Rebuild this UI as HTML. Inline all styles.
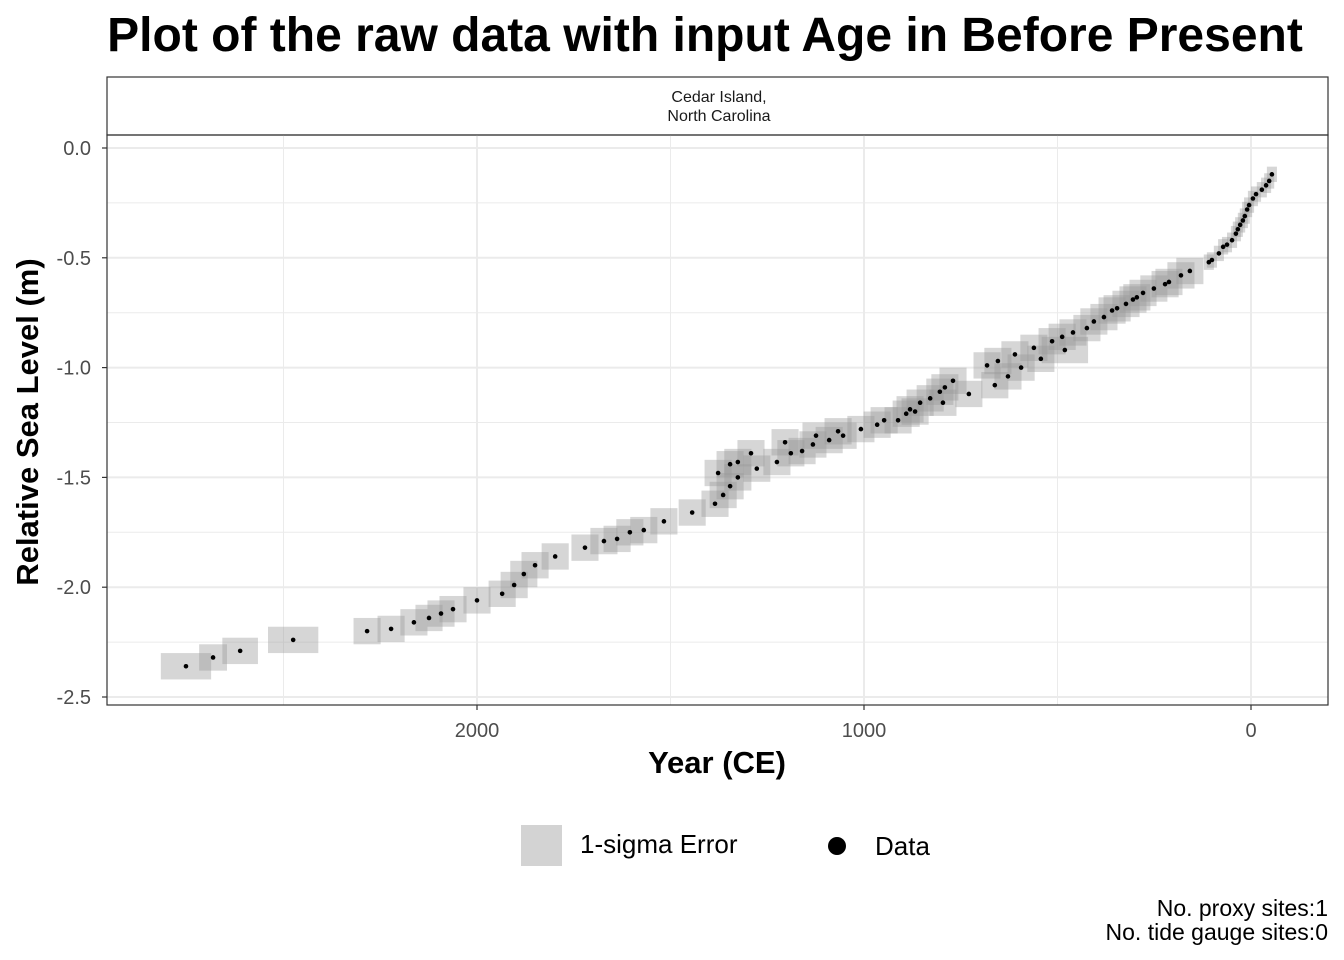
<!DOCTYPE html>
<html><head><meta charset="utf-8"><style>
body{margin:0;background:#fff;}
svg{display:block;font-family:"Liberation Sans",Arial,sans-serif;}
</style></head><body>
<svg id="chart" width="1344" height="960" xmlns="http://www.w3.org/2000/svg">
<text x="705" y="51" text-anchor="middle" font-size="48" font-weight="bold">Plot of the raw data with input Age in Before Present</text>
<rect x="107" y="77" width="1221" height="58" fill="#fff" stroke="#333" stroke-width="1.2"/>
<text x="719" y="102" text-anchor="middle" font-size="16" fill="#1a1a1a">Cedar Island,</text>
<text x="719" y="121" text-anchor="middle" font-size="16" fill="#1a1a1a">North Carolina</text>
<g id="grid"></g>
<g id="boxes"></g>
<g id="points"></g>
<rect x="107" y="135" width="1221" height="570" fill="none" stroke="#333" stroke-width="1.2"/>
<g id="axes"></g>
<text x="717" y="773" text-anchor="middle" font-size="31" font-weight="bold">Year (CE)</text>
<text transform="translate(38,422) rotate(-90)" text-anchor="middle" font-size="31" font-weight="bold">Relative Sea Level (m)</text>
<g>
<rect x="521" y="825" width="41" height="41" fill="#d3d3d3"/>
<text x="580" y="853" font-size="26">1-sigma Error</text>
<circle cx="837" cy="846" r="9" fill="#000"/>
<text x="875" y="855" font-size="26">Data</text>
</g>
<text x="1328" y="916" text-anchor="end" font-size="23">No. proxy sites:1</text>
<text x="1328" y="940" text-anchor="end" font-size="23">No. tide gauge sites:0</text>
</svg>
<script>
const ages=[2752,2682,2612,2475,2284,2222,2163,2124,2093,2062,2000,1935,1904,1879,1850,1798,1721,1672,1638,1605,1569,1517,1444,1377,1346,1326,1326,1346,1364,1385,1292,1277,1225,1204,1189,1160,1132,1124,1090,1067,1054,1008,966,948,912,891,881,868,855,829,796,804,791,770,729,682,662,654,628,610,594,561,543,514,488,481,460,424,406,380,359,346,323,305,295,279,251,222,212,181,158,109,101,83,72,62,49,39,34,28,21,16,10,5,-5,-13,-28,-39,-47,-54];
const rsl=[-2.36,-2.32,-2.29,-2.24,-2.20,-2.19,-2.16,-2.14,-2.12,-2.10,-2.06,-2.03,-1.99,-1.94,-1.90,-1.86,-1.82,-1.79,-1.78,-1.75,-1.74,-1.70,-1.66,-1.48,-1.44,-1.43,-1.50,-1.54,-1.58,-1.62,-1.39,-1.46,-1.43,-1.34,-1.39,-1.38,-1.35,-1.31,-1.33,-1.29,-1.31,-1.28,-1.26,-1.24,-1.24,-1.21,-1.19,-1.20,-1.16,-1.14,-1.16,-1.11,-1.09,-1.06,-1.12,-0.99,-1.08,-0.97,-1.04,-0.94,-1.00,-0.91,-0.96,-0.88,-0.86,-0.92,-0.84,-0.82,-0.79,-0.77,-0.74,-0.73,-0.71,-0.69,-0.68,-0.66,-0.64,-0.62,-0.61,-0.58,-0.56,-0.52,-0.51,-0.48,-0.45,-0.44,-0.42,-0.39,-0.37,-0.35,-0.33,-0.31,-0.28,-0.26,-0.23,-0.21,-0.19,-0.17,-0.15,-0.12];
const ageErrOverride={0:65,1:36,2:46,3:65,65:60};
const yTicks=[0,-0.5,-1,-1.5,-2,-2.5];
const yTickLabels=["0.0","-0.5","-1.0","-1.5","-2.0","-2.5"];
const xTicks=[2000,1000,0];
const xTickLabels=["2000","1000","0"];
const xMinor=[2500,1500,500];
const yMinor=[-0.25,-0.75,-1.25,-1.75,-2.25];

const NS="http://www.w3.org/2000/svg";
const X=v=>1251-v*0.387;
const Y=v=>148-v*219.6;
function mk(tag,attrs,parent){const e=document.createElementNS(NS,tag);for(const k in attrs)e.setAttribute(k,attrs[k]);parent.appendChild(e);return e;}
const grid=document.getElementById('grid');
xMinor.forEach(v=>{const l=mk('line',{x1:X(v),x2:X(v),y1:135,y2:705,stroke:'#ebebeb','stroke-width':1},grid);

});
yMinor.forEach(v=>{const l=mk('line',{x1:107,x2:1328,y1:Y(v),y2:Y(v),stroke:'#ebebeb','stroke-width':1},grid);

});
xTicks.forEach(v=>{const l=mk('line',{x1:X(v),x2:X(v),y1:135,y2:705,stroke:'#ebebeb','stroke-width':2},grid);

});
yTicks.forEach(v=>{const l=mk('line',{x1:107,x2:1328,y1:Y(v),y2:Y(v),stroke:'#ebebeb','stroke-width':2},grid);

});
const boxes=document.getElementById('boxes'),pts=document.getElementById('points');
ages.forEach((a,i)=>{
  const recent=i>=81;
  const xe=ageErrOverride[i]!==undefined?ageErrOverride[i]:(recent?13:35);
  const ye=recent?0.035:0.06;
  const r=mk('rect',{x:X(a+xe),y:Y(rsl[i]+ye),width:X(a-xe)-X(a+xe),height:Y(rsl[i]-ye)-Y(rsl[i]+ye),fill:'#999','fill-opacity':0.4},boxes);
  
  
});
ages.forEach((a,i)=>{
  const c=mk('circle',{cx:X(a),cy:Y(rsl[i]),r:2.3,fill:'#000'},pts);
  
  
});
const axes=document.getElementById('axes');
yTicks.forEach((v,i)=>{
  const t=mk('line',{x1:102,x2:107,y1:Y(v),y2:Y(v),stroke:'#333','stroke-width':1.2},axes);
  
  
  const tx=mk('text',{x:91,y:Y(v)+7,'text-anchor':'end','font-size':20,fill:'#4d4d4d'},axes);
  tx.textContent=yTickLabels[i];
  
  
});
xTicks.forEach((v,i)=>{
  const t=mk('line',{x1:X(v),x2:X(v),y1:705,y2:710,stroke:'#333','stroke-width':1.2},axes);
  
  
  const tx=mk('text',{x:X(v),y:737,'text-anchor':'middle','font-size':20,fill:'#4d4d4d'},axes);
  tx.textContent=xTickLabels[i];
  
  
});
</script>
</body></html>
